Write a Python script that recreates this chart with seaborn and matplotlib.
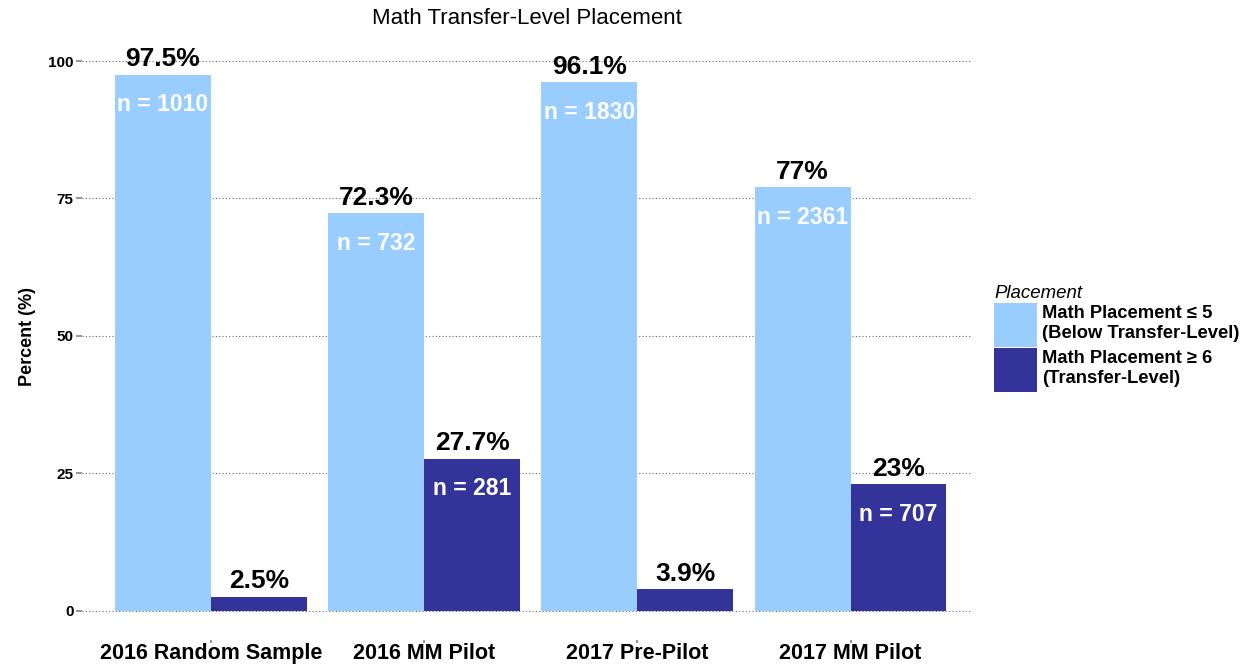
import pandas as pd
import matplotlib.pyplot as plt
import seaborn as sns
from matplotlib.patches import Patch

# ------------------------------------------------------------
# data
# ------------------------------------------------------------
groups = ['2016 Random Sample', '2016 MM Pilot', '2017 Pre-Pilot', '2017 MM Pilot']
placements = ['Math Placement \u2264 5\n(Below Transfer-Level)',
              'Math Placement \u2265 6\n(Transfer-Level)']
below_pct = [97.5, 72.3, 96.1, 77.0]
transfer_pct = [2.5, 27.7, 3.9, 23.0]
below_n = [1010, 732, 1830, 2361]
transfer_n = [None, 281, None, 707]   # not printed on the short bars
pct_labels_below = ['97.5%', '72.3%', '96.1%', '77%']
pct_labels_transfer = ['2.5%', '27.7%', '3.9%', '23%']

colors = ['#99CCFF', '#333399']

df = pd.DataFrame({
    'group': groups * 2,
    'placement': [placements[0]] * 4 + [placements[1]] * 4,
    'pct': below_pct + transfer_pct,
})

# ------------------------------------------------------------
# plot
# ------------------------------------------------------------
sns.set_theme(style='white')
plt.rcParams['font.family'] = ['Liberation Sans', 'DejaVu Sans']
plt.rcParams['text.color'] = 'black'
plt.rcParams['axes.labelcolor'] = 'black'

fig = plt.figure(figsize=(12.51, 6.65), dpi=100)
ax = fig.add_axes([0.0655, 0.0376, 0.7115, 0.912])

sns.barplot(data=df, x='group', y='pct', hue='placement', order=groups,
            hue_order=placements, palette=colors, width=0.9, gap=0,
            saturation=1, linewidth=0, edgecolor='none', legend=False, ax=ax)

ax.set_xlim(-0.605, 3.57)
ax.set_ylim(-5.3, 105)
ax.set_yticks([0, 25, 50, 75, 100])
ax.yaxis.grid(True, linestyle=(0, (1, 2)), color='#666666', linewidth=0.8)
ax.set_axisbelow(True)
for s in ax.spines.values():
    s.set_visible(False)

ax.tick_params(axis='y', length=4, color='#888888', labelsize=11, pad=2, left=True)
ax.tick_params(axis='x', length=2, color='#888888', labelsize=15.5, pad=0, bottom=True)
for lab in ax.get_xticklabels() + ax.get_yticklabels():
    lab.set_fontweight('bold')
    lab.set_color('black')

ax.set_xlabel('')
ax.set_ylabel('Percent (%)', fontsize=13, fontweight='bold', labelpad=9, color='black')
ax.set_title('Math Transfer-Level Placement', fontsize=16, pad=7, color='black')

# value labels
all_pct_labels = [pct_labels_below, pct_labels_transfer]
all_n = [below_n, transfer_n]
for container, plabs, ns in zip(ax.containers, all_pct_labels, all_n):
    for bar, plab, n in zip(container, plabs, ns):
        xc = bar.get_x() + bar.get_width() / 2
        h = bar.get_height()
        ax.text(xc, h + 1.6, plab, ha='center', va='baseline',
                fontsize=19, fontweight='bold', color='black')
        if n is not None:
            ax.text(xc, h - 6.6, f'n = {n}', ha='center', va='baseline',
                    fontsize=16.5, fontweight='bold', color='white')

# legend (square keys, stacked with almost no gap)
handles = [Patch(facecolor=c, edgecolor='none') for c in colors]
leg = fig.legend(handles, placements, loc='upper left',
                 bbox_to_anchor=(0.789, 0.583), frameon=False,
                 title='Placement', fontsize=13.2,
                 handlelength=2.35, handleheight=3.24,
                 handletextpad=0.25, labelspacing=0.1, borderaxespad=0)
leg.get_title().set_fontstyle('italic')
leg.get_title().set_fontsize(13.4)
leg.get_title().set_color('black')
leg._legend_box.align = 'left'
for t in leg.get_texts():
    t.set_fontweight('bold')
    t.set_color('black')

fig.savefig('out.png', dpi=100)
